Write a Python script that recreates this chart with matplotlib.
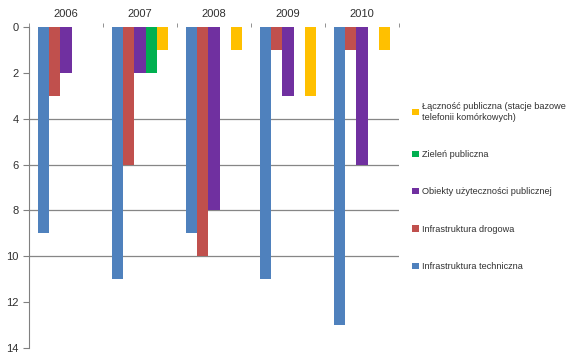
import matplotlib.pyplot as plt
import numpy as np

plt.rcParams["font.family"] = ["Liberation Sans", "DejaVu Sans"]

years = ["2006", "2007", "2008", "2009", "2010"]
techniczna = [9, 11, 9, 11, 13]
drogowa = [3, 6, 10, 1, 1]
obiekty = [2, 2, 8, 3, 6]
zielen = [0, 2, 0, 0, 0]
lacznosc = [0, 1, 1, 3, 1]

labels = ["Infrastruktura techniczna",
          "Infrastruktura drogowa",
          "Obiekty użyteczności publicznej",
          "Zieleń publiczna",
          "Łączność publiczna (stacje bazowe\ntelefonii komórkowych)"]
colors = ["#4F81BD", "#C0504D", "#7030A0", "#00B050", "#FFC000"]
series = [techniczna, drogowa, obiekty, zielen, lacznosc]

fig = plt.figure(figsize=(5.67, 3.57), dpi=100)
ax = fig.add_axes([29/567, 1 - 348/357, 370/567, 321/357])

x = np.arange(len(years))
w = 0.153
for i, (vals, c, lab) in enumerate(zip(series, colors, labels)):
    ax.bar(x + (i - 2) * w, vals, w, color=c, label=lab, zorder=3)

ax.set_xlim(-0.5, len(years) - 0.5)
ax.set_ylim(14, 0)
ax.set_yticks(range(0, 15, 2))
ax.tick_params(axis="y", labelsize=8, colors="#808080", labelcolor="#303030",
               length=4, width=0.8, direction="out")

# categories on top, ticks between groups
ax.xaxis.set_ticks_position("top")
ax.set_xticks(x)
ax.set_xticklabels(years, fontsize=8, color="#303030")
ax.set_xticks(np.arange(-0.5, len(years)), minor=True)
ax.tick_params(axis="x", which="major", length=0, pad=6)
ax.tick_params(axis="x", which="minor", length=3, color="#808080", top=True)

ax.grid(axis="y", color="#868686", linewidth=0.9, zorder=0)
for val, gl in zip(range(0, 15, 2), ax.yaxis.get_gridlines()):
    if val not in (4, 6, 8, 10):
        gl.set_visible(False)

for s in ["top", "right", "bottom"]:
    ax.spines[s].set_visible(False)
ax.spines["left"].set_color("#808080")

h, l = ax.get_legend_handles_labels()
fig.legend(h[::-1], l[::-1], loc="upper left",
           bbox_to_anchor=(404/567, 1 - 94/357), frameon=False,
           fontsize=6.6, labelspacing=3.1, handlelength=0.7, handleheight=0.7,
           handletextpad=0.4, labelcolor="#303030")

fig.savefig("out.png", dpi=100)
